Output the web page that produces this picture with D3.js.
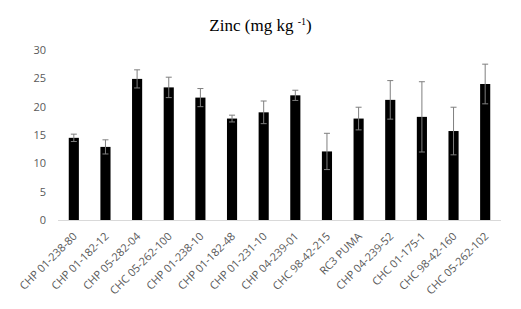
<!DOCTYPE html>
<html>
<head>
<meta charset="utf-8">
<script src="https://cdn.jsdelivr.net/npm/d3@7"></script>
<style>
  body { margin: 0; background: #fff; }
</style>
</head>
<body>
<div id="chart"></div>
<script>
// genotypes and their zinc values (mean and error)
var categories = ["CHP 01-238-80", "CHP 01-182-12", "CHP 05-282-04", "CHC 05-262-100", "CHP 01-238-10",
  "CHP 01-182-48", "CHP 01-231-10", "CHP 04-239-01", "CHC 98-42-215", "RC3 PUMA",
  "CHP 04-239-52", "CHC 01-175-1", "CHC 98-42-160", "CHC 05-262-102"];
var zinc = [14.5, 12.9, 24.9, 23.4, 21.6, 17.9, 19.0, 22.0, 12.1, 17.9, 21.2, 18.2, 15.7, 24.0];
var errors = [0.65, 1.25, 1.6, 1.8, 1.6, 0.6, 2.0, 0.9, 3.2, 2.0, 3.4, 6.2, 4.2, 3.5];
var yTicks = [0, 5, 10, 15, 20, 25, 30];

var margin = {top: 50, right: 20, bottom: 89, left: 58},
    width = 521 - margin.left - margin.right,
    height = 309 - margin.top - margin.bottom;

var svg = d3.select("#chart")
  .append("svg")
    .attr("width", 521)
    .attr("height", 309)
  .append("g")
    .attr("transform", "translate(" + margin.left + "," + margin.top + ")");

// title with superscript
var title = svg.append("text")
  .attr("x", 260.5 - margin.left)
  .attr("y", -19)
  .attr("text-anchor", "middle")
  .attr("font-family", "Liberation Serif, serif")
  .attr("font-size", "17px")
  .attr("fill", "#000");
title.append("tspan").text("Zinc (mg kg ");
title.append("tspan").text("-1").attr("font-size", "10px").attr("dy", "-6");
title.append("tspan").text(")").attr("dy", "6");

var x = d3.scaleBand()
  .domain(categories)
  .range([0, 443])
  .paddingInner(0.68)
  .paddingOuter(0.34);

var y = d3.scaleLinear()
  .domain([0, 30])
  .range([height, 0]);

// y tick labels (no axis line)
var yAxis = svg.append("g")
  .call(d3.axisLeft(y).tickValues(yTicks).tickSize(0).tickPadding(12));
yAxis.select(".domain").remove();
yAxis.selectAll("text")
  .attr("font-family", "Open Sans, sans-serif")
  .attr("font-size", "11px")
  .attr("fill", "#595959");

// bars
svg.selectAll("rect.bar")
  .data(zinc)
  .enter()
  .append("rect")
    .attr("class", "bar")
    .attr("x", function(d, i) { return x(categories[i]); })
    .attr("width", x.bandwidth())
    .attr("y", function(d) { return y(d); })
    .attr("height", function(d) { return height - y(d); })
    .attr("fill", "#000");

// error bars
var errG = svg.selectAll("g.err")
  .data(zinc)
  .enter()
  .append("g")
    .attr("class", "err")
    .attr("stroke", "#7f7f7f")
    .attr("stroke-width", 1);
errG.append("line")
  .attr("x1", function(d, i) { return x(categories[i]) + x.bandwidth() / 2; })
  .attr("x2", function(d, i) { return x(categories[i]) + x.bandwidth() / 2; })
  .attr("y1", function(d, i) { return y(d - errors[i]); })
  .attr("y2", function(d, i) { return y(d + errors[i]); });
errG.append("line")
  .attr("x1", function(d, i) { return x(categories[i]) + x.bandwidth() / 2 - 3; })
  .attr("x2", function(d, i) { return x(categories[i]) + x.bandwidth() / 2 + 3; })
  .attr("y1", function(d, i) { return y(d + errors[i]); })
  .attr("y2", function(d, i) { return y(d + errors[i]); });
errG.append("line")
  .attr("x1", function(d, i) { return x(categories[i]) + x.bandwidth() / 2 - 3; })
  .attr("x2", function(d, i) { return x(categories[i]) + x.bandwidth() / 2 + 3; })
  .attr("y1", function(d, i) { return y(d - errors[i]); })
  .attr("y2", function(d, i) { return y(d - errors[i]); });

// x axis
var xAxis = svg.append("g")
  .attr("transform", "translate(0," + height + ")")
  .call(d3.axisBottom(x).tickSize(0).tickPadding(0));
xAxis.select(".domain").attr("stroke", "#d9d9d9").attr("d", "M0,0.5H443");
xAxis.selectAll("text")
  .attr("font-family", "Open Sans, sans-serif")
  .attr("font-size", "11px")
  .attr("fill", "#595959")
  .attr("text-anchor", "end")
  .attr("dy", "0")
  .attr("transform", "translate(4,17) rotate(-45)");
</script>
</body>
</html>
